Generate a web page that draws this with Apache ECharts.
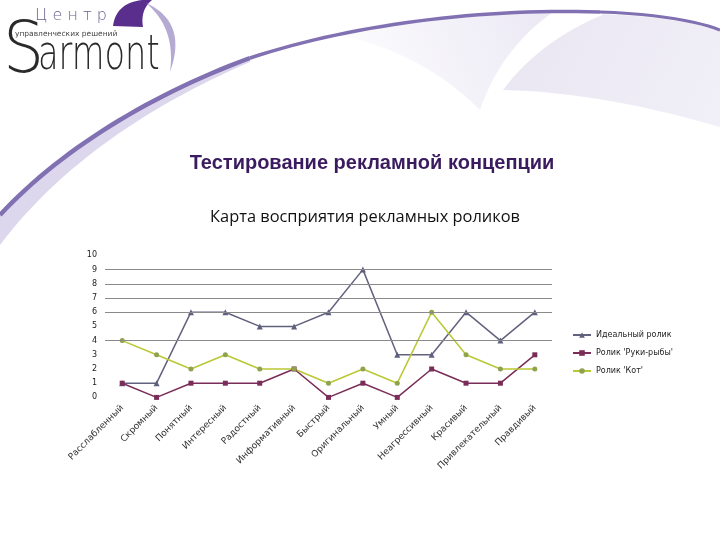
<!DOCTYPE html>
<html>
<head>
<meta charset="utf-8">
<script src="https://cdn.jsdelivr.net/npm/echarts@6/dist/echarts.min.js"></script>
<style>html,body{margin:0;padding:0;background:#fff}#c{width:720px;height:540px}</style>
</head>
<body>
<div id="c"></div>
<script>
const categories = ['Расслабленный','Скромный','Понятный','Интересный','Радостный','Информативный','Быстрый','Оригинальный','Умный','Неагрессивный','Красивый','Привлекательный','Правдивый'];
const idealValues = [1,1,6,6,5,5,6,9,3,3,6,4,6];
const fishValues = [1,0,1,1,1,2,0,1,0,2,1,1,3];
const catValues = [4,3,2,3,2,2,1,2,1,6,3,2,2];
const gridLineValues = [4,6,7,8,9];
const seriesNames = ['Идеальный ролик', "Ролик 'Руки-рыбы'", "Ролик 'Кот'"];

// decorative curve helpers (background artwork only)
function bez(p0,p1,p2,p3,n){
  const out=[];
  for(let i=0;i<=n;i++){
    const t=i/n, u=1-t;
    out.push([u*u*u*p0[0]+3*u*u*t*p1[0]+3*u*t*t*p2[0]+t*t*t*p3[0],
              u*u*u*p0[1]+3*u*u*t*p1[1]+3*u*t*t*p2[1]+t*t*t*p3[1]]);
  }
  return out;
}
function quad(p0,p1,p2,n){
  const out=[];
  for(let i=0;i<=n;i++){
    const t=i/n,u=1-t;
    out.push([u*u*p0[0]+2*u*t*p1[0]+t*t*p2[0], u*u*p0[1]+2*u*t*p1[1]+t*t*p2[1]]);
  }
  return out;
}
const lineLeft = bez([0,215],[60,150],[150,95],[250,58],30);
const lineMid = bez([250,58],[350,25],[480,8],[600,12],30);
const lineRight = bez([600,12],[660,14],[700,22],[720,30],12);
const underBand = bez([0,215],[60,150],[150,95],[250,58],30).concat(bez([250,62],[150,105],[60,165],[0,245],30));
const rightBand = bez([600,14],[660,16],[700,24],[720,31],10)
  .concat([[720,127]])
  .concat(quad([720,127],[600,92],[503,90],15))
  .concat(quad([503,90],[540,40],[607,13],15));
const leftFaint = bez([330,33],[420,16],[500,10],[553,12],15)
  .concat(quad([553,12],[500,50],[480,110],15))
  .concat(quad([480,110],[420,50],[330,33],15));
const leafPts = quad([113,26],[116,3],[142,0],15).concat([[152,0]]).concat(quad([152,0],[140,10],[143,27],10));
const crescentPts = quad([146,3],[188,22],[170,72],20).concat(quad([170,72],[176,28],[146,3],20));

const chart = echarts.init(document.getElementById('c'), null, {renderer:'canvas'});
const option = {
  backgroundColor:'#ffffff',
  animation:false,
  graphic:[
    {type:'polygon', z:-10, silent:true, shape:{points:leftFaint},
     style:{fill:new echarts.graphic.LinearGradient(1,0,0,1,[{offset:0,color:'#ebe8f4'},{offset:1,color:'#ffffff'}])}},
    {type:'polygon', z:-10, silent:true, shape:{points:rightBand},
     style:{fill:new echarts.graphic.LinearGradient(0,0,1,1,[{offset:0,color:'#e9e6f2'},{offset:1,color:'#f1eff7'}])}},
    {type:'polygon', z:-9, silent:true, shape:{points:underBand}, style:{fill:'#dcd7ec'}},
    {type:'polyline', z:-8, silent:true, shape:{points:lineLeft}, style:{fill:null, stroke:'#8171b2', lineWidth:4.5}},
    {type:'polyline', z:-8, silent:true, shape:{points:lineMid}, style:{fill:null, stroke:'#8171b2', lineWidth:3.5}},
    {type:'polyline', z:-8, silent:true, shape:{points:lineRight}, style:{fill:null, stroke:'#8171b2', lineWidth:3}},
    {type:'polygon', z:-7, silent:true, shape:{points:leafPts}, style:{fill:'#5a2e8c'}},
    {type:'polygon', z:-7, silent:true, shape:{points:crescentPts}, style:{fill:'#b4aad2'}},
    {type:'text', x:3, y:17, scaleX:0.9, style:{text:'S', font:'200 72px "DejaVu Sans",sans-serif', fill:'#2a2a2a'}},
    {type:'text', x:38, y:33, scaleX:0.7, style:{text:'armont', font:'200 48px "DejaVu Sans",sans-serif', fill:'#2a2a2a'}},
    {type:'text', x:35, y:8, style:{text:'Ц е н т р', font:'200 16px "DejaVu Sans",sans-serif', fill:'#6b5d8e'}},
    {type:'text', x:15, y:30, style:{text:'управленческих решений', font:'7.5px "DejaVu Sans",sans-serif', fill:'#444'}},
    {type:'text', x:372, y:153, style:{text:'Тестирование рекламной концепции', align:'center', font:'bold 20px "Liberation Sans",Arial,sans-serif', fill:'#3a1b60'}},
    {type:'text', x:365, y:209, style:{text:'Карта восприятия рекламных роликов', align:'center', font:'16.4px "Open Sans",sans-serif', fill:'#111'}}
  ],
  legend:{
    orient:'vertical', left:567, top:326, itemGap:10, itemWidth:18, itemHeight:7,
    textStyle:{fontSize:8, color:'#222', fontFamily:'"DejaVu Sans",sans-serif'},
    data:seriesNames
  },
  grid:{left:105, right:168, top:255.4, bottom:142.6, containLabel:false},
  xAxis:{
    type:'category', data:categories, boundaryGap:true,
    axisLine:{show:false}, axisTick:{show:false},
    axisLabel:{rotate:45, fontSize:9, color:'#333', margin:9, interval:0, fontFamily:'"DejaVu Sans",sans-serif'}
  },
  yAxis:{
    type:'value', min:0, max:10, interval:1,
    axisLine:{show:false}, axisTick:{show:false}, splitLine:{show:false},
    axisLabel:{fontSize:8, color:'#222', margin:8, fontFamily:'"DejaVu Sans",sans-serif'}
  },
  series:[
    {name:seriesNames[0], type:'line', data:idealValues, symbol:'triangle', symbolSize:6,
     lineStyle:{color:'#62627f', width:1.5}, itemStyle:{color:'#5f5f80'},
     markLine:{silent:true, symbol:'none', label:{show:false}, lineStyle:{color:'#8a8a8a', width:1, type:'solid'},
       data:gridLineValues.map(v=>({yAxis:v}))}},
    {name:seriesNames[1], type:'line', data:fishValues, symbol:'rect', symbolSize:5,
     lineStyle:{color:'#7a2d58', width:1.5}, itemStyle:{color:'#7a2d58'}},
    {name:seriesNames[2], type:'line', data:catValues, symbol:'circle', symbolSize:5,
     lineStyle:{color:'#b9c834', width:1.5}, itemStyle:{color:'#8fa24e'}}
  ]
};
chart.setOption(option);
</script>
</body>
</html>
